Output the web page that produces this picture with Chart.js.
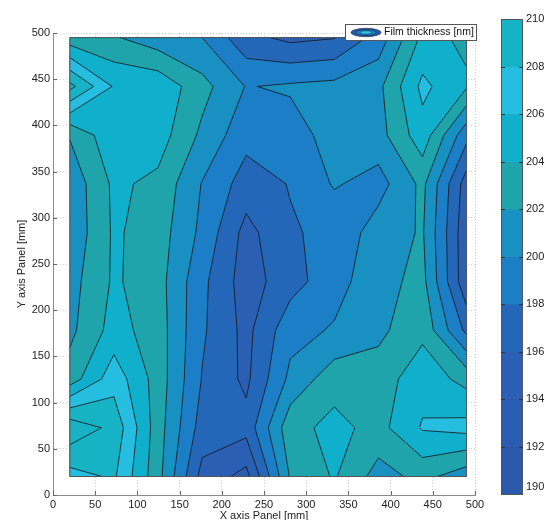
<!DOCTYPE html>
<html>
<head>
<meta charset="utf-8">
<script src="https://cdn.jsdelivr.net/npm/chart.js@4.4.1/dist/chart.umd.min.js"></script>
<style>
  html, body { margin: 0; padding: 0; background: #fff; overflow: hidden; }
</style>
</head>
<body>
<canvas id="chart" width="546" height="520"></canvas>
<script>
// measurement grid of the panel [mm]
const xPositions = [20, 72.2, 124.4, 176.7, 228.9, 281.1, 333.3, 385.6, 437.8, 490]
const yPositions = [20, 72.8, 125.6, 178.3, 231.1, 283.9, 336.7, 389.4, 442.2, 495]

// film thickness [nm], one row per y position, bottom row first
const thickness = [
    [207.2, 208.3, 202.7, 195.3, 193.3, 202.2, 204.2, 201.2, 202.6, 200.8],
    [211.5, 209.4, 202.9, 197.1, 196.7, 203.3, 204.6, 203.3, 206.2, 206.7],
    [202.9, 207.2, 203.1, 197.9, 195.55, 200.5, 203.2, 203.0, 205.2, 203.3],
    [201.5, 204.8, 203.0, 198.3, 195.4, 199.3, 200.2, 201.5, 203.5, 197.5],
    [201.2, 204.3, 202.8, 198.5, 195.0, 197.2, 199.2, 201.3, 202.6, 194.5],
    [200.5, 204.3, 203.0, 199.5, 195.3, 197.8, 198.5, 201.0, 202.2, 194.5],
    [200.6, 204.4, 203.5, 199.9, 197.07, 198.1, 200.2, 199.2, 202.5, 195.0],
    [202.15, 205.5, 205.0, 201.55, 198.65, 198.9, 201.0, 201.2, 205.2, 198.6],
    [210.6, 205.8, 205.5, 202.7, 199.9, 200.3, 200.6, 201.5, 206.5, 204.2],
    [202.8, 202.2, 200.8, 200.0, 196.6, 195.5, 195.9, 198.8, 204.5, 203.7]
]

const levels = [190, 192, 194, 196, 198, 200, 202, 204, 206, 208, 210]
// colour of each band [levels[k], levels[k+1]]
const bandColors = ["#2b59ab", "#2a5caf", "#2a5fb3", "#2467b8", "#1b7ec6", "#1890c1", "#1ea4aa", "#10afcc", "#25bde0", "#16b3c4"]
const axisTicks = [0, 50, 100, 150, 200, 250, 300, 350, 400, 450, 500]
const colorbarLabels = [190, 192, 194, 196, 198, 200, 202, 204, 206, 208, 210]

const font = "Liberation Sans, Arial, Helvetica, sans-serif"

const points = []
yPositions.forEach((y, j) => {
    xPositions.forEach((x, i) => {
        points.push({ x: x, y: y, v: thickness[j][i] })
    })
})

function lerp(a, b, level) {
    const t = (level - a.v) / (b.v - a.v)
    return { x: a.x + (b.x - a.x) * t, y: a.y + (b.y - a.y) * t }
}

// corners of cell (i, j) in pixels: bottom-left, bottom-right, top-right, top-left
function cellCorners(chart, i, j) {
    const sx = chart.scales.x
    const sy = chart.scales.y
    const c = (ii, jj) => ({
        x: sx.getPixelForValue(xPositions[ii]),
        y: sy.getPixelForValue(yPositions[jj]),
        v: thickness[jj][ii]
    })
    return [c(i, j), c(i + 1, j), c(i + 1, j + 1), c(i, j + 1)]
}

// polygons of the part of a cell where value >= level
function cellPolygons(corners, level) {
    const high = corners.map(c => c.v >= level)
    const saddle = high[0] === high[2] && high[1] === high[3] && high[0] !== high[1]
    const center = (corners[0].v + corners[1].v + corners[2].v + corners[3].v) / 4
    if (saddle && center < level) {
        const polys = []
        for (let k = 0; k < 4; k++) {
            if (!high[k]) continue
            const prev = corners[(k + 3) % 4]
            const next = corners[(k + 1) % 4]
            polys.push([lerp(prev, corners[k], level), corners[k], lerp(corners[k], next, level)])
        }
        return polys
    }
    const out = []
    for (let k = 0; k < 4; k++) {
        const a = corners[k]
        const b = corners[(k + 1) % 4]
        if (a.v >= level) out.push(a)
        if ((a.v >= level) !== (b.v >= level)) out.push(lerp(a, b, level))
    }
    return out.length ? [out] : []
}

// contour segments of a cell at level
function cellSegments(corners, level) {
    const high = corners.map(c => c.v >= level)
    const pts = []
    for (let k = 0; k < 4; k++) {
        const a = corners[k]
        const b = corners[(k + 1) % 4]
        pts.push(high[k] !== high[(k + 1) % 4] ? lerp(a, b, level) : null)
    }
    const found = pts.filter(p => p)
    if (found.length === 2) return [found]
    if (found.length === 4) {
        const center = (corners[0].v + corners[1].v + corners[2].v + corners[3].v) / 4
        const centerHigh = center >= level
        // cut off the corners that differ from the centre
        if (high[0] !== centerHigh) return [[pts[3], pts[0]], [pts[1], pts[2]]]
        return [[pts[0], pts[1]], [pts[2], pts[3]]]
    }
    return []
}

const contourPlugin = {
    id: "contour",
    beforeDatasetsDraw(chart) {
        const ctx = chart.ctx
        const nx = xPositions.length
        const ny = yPositions.length
        ctx.save()
        for (let k = 0; k < levels.length; k++) {
            ctx.beginPath()
            for (let j = 0; j < ny - 1; j++) {
                for (let i = 0; i < nx - 1; i++) {
                    const polys = cellPolygons(cellCorners(chart, i, j), levels[k])
                    polys.forEach(poly => {
                        ctx.moveTo(poly[0].x, poly[0].y)
                        for (let p = 1; p < poly.length; p++) ctx.lineTo(poly[p].x, poly[p].y)
                        ctx.closePath()
                    })
                }
            }
            ctx.fillStyle = bandColors[Math.min(k, bandColors.length - 1)]
            ctx.fill()
        }

        ctx.strokeStyle = "#141414"
        ctx.lineWidth = 0.8
        ctx.lineJoin = "round"
        levels.forEach(level => {
            ctx.beginPath()
            for (let j = 0; j < ny - 1; j++) {
                for (let i = 0; i < nx - 1; i++) {
                    cellSegments(cellCorners(chart, i, j), level).forEach(seg => {
                        ctx.moveTo(seg[0].x, seg[0].y)
                        ctx.lineTo(seg[1].x, seg[1].y)
                    })
                }
            }
            ctx.stroke()
        })

        // outline of the measured area
        const sx = chart.scales.x
        const sy = chart.scales.y
        const x0 = sx.getPixelForValue(xPositions[0])
        const x1 = sx.getPixelForValue(xPositions[nx - 1])
        const y0 = sy.getPixelForValue(yPositions[0])
        const y1 = sy.getPixelForValue(yPositions[ny - 1])
        ctx.strokeStyle = "#555"
        ctx.lineWidth = 1
        ctx.strokeRect(x0, y1, x1 - x0, y0 - y1)
        ctx.restore()
    },
    afterDraw(chart) {
        const ctx = chart.ctx
        const sx = chart.scales.x
        const sy = chart.scales.y
        const area = chart.chartArea
        ctx.save()

        // inward tick marks
        ctx.strokeStyle = "#666"
        ctx.lineWidth = 1
        ctx.beginPath()
        axisTicks.forEach(v => {
            const px = Math.round(sx.getPixelForValue(v)) + 0.5
            ctx.moveTo(px, area.bottom)
            ctx.lineTo(px, area.bottom - 4)
            const py = Math.round(sy.getPixelForValue(v)) + 0.5
            ctx.moveTo(area.left, py)
            ctx.lineTo(area.left + 4, py)
        })
        ctx.stroke()

        // colour bar
        const cbLeft = 501
        const cbRight = 522
        const cbTop = 19
        const cbBottom = 494
        const lo = levels[0]
        const hi = levels[levels.length - 1]
        const cbY = v => cbBottom - (v - lo) / (hi - lo) * (cbBottom - cbTop)
        for (let k = 0; k < levels.length - 1; k++) {
            const yTop = cbY(levels[k + 1])
            const yBot = cbY(levels[k])
            ctx.fillStyle = bandColors[k]
            ctx.fillRect(cbLeft, yTop, cbRight - cbLeft, yBot - yTop + 0.5)
        }
        ctx.strokeStyle = "#555"
        ctx.strokeRect(cbLeft + 0.5, cbTop + 0.5, cbRight - cbLeft, cbBottom - cbTop)
        ctx.strokeStyle = "#333"
        ctx.beginPath()
        colorbarLabels.slice(1, -1).forEach(v => {
            const y = Math.round(cbY(v)) + 0.5
            ctx.moveTo(cbLeft, y)
            ctx.lineTo(cbLeft + 4, y)
            ctx.moveTo(cbRight - 3, y)
            ctx.lineTo(cbRight + 1, y)
        })
        ctx.stroke()
        ctx.fillStyle = "#222"
        ctx.font = "11px " + font
        ctx.textAlign = "left"
        ctx.textBaseline = "middle"
        colorbarLabels.forEach(v => {
            const y = Math.min(cbY(v), 487)
            ctx.fillText(String(v), 526, y)
        })

        // legend box
        ctx.fillStyle = "#fff"
        ctx.fillRect(345, 24, 132, 16)
        ctx.strokeStyle = "#555"
        ctx.strokeRect(345.5, 24.5, 131, 16)
        const ellipse = (rx, ry, color) => {
            ctx.beginPath()
            ctx.ellipse(366, 32.5, rx, ry, 0, 0, Math.PI * 2)
            ctx.fillStyle = color
            ctx.fill()
            ctx.strokeStyle = "#1a2a50"
            ctx.lineWidth = 0.6
            ctx.stroke()
        }
        ellipse(15, 4.2, "#2a58a8")
        ellipse(10, 3, "#1b86c4")
        ellipse(6, 1.8, "#2ec3e2")
        ctx.fillStyle = "#111"
        ctx.font = "10.5px " + font
        ctx.fillText("Film thickness [nm]", 384, 32.5)
        ctx.restore()
    }
}

const axisOptions = (title, fit, titlePadding) => ({
    type: "linear",
    min: 0,
    max: 500,
    afterFit: fit,
    afterBuildTicks: scale => { scale.ticks = axisTicks.map(v => ({ value: v })) },
    ticks: { color: "#222", padding: 3, font: { family: font, size: 11 } },
    grid: { color: "#cfcfcf", lineWidth: 1, drawTicks: false },
    border: { display: true, color: "#8c8c8c", width: 1, dash: [1, 2] },
    title: { display: true, text: title, color: "#222", padding: titlePadding, font: { family: font, size: 11 } }
})

new Chart(document.getElementById("chart"), {
    type: "scatter",
    data: {
        datasets: [{
            label: "Film thickness [nm]",
            data: points,
            pointRadius: 0,
            showLine: false
        }]
    },
    options: {
        responsive: false,
        animation: false,
        devicePixelRatio: 1,
        layout: { padding: { left: 0, right: 71, top: 33, bottom: 0 } },
        plugins: { legend: { display: false }, tooltip: { enabled: false } },
        scales: {
            x: axisOptions("X axis Panel [mm]", scale => { scale.height = 25 }, { top: 0, bottom: -3 }),
            y: axisOptions("Y axis Panel [mm]", scale => { scale.width = 53 }, { top: 15, bottom: 0 })
        }
    },
    plugins: [contourPlugin]
})
</script>
</body>
</html>
